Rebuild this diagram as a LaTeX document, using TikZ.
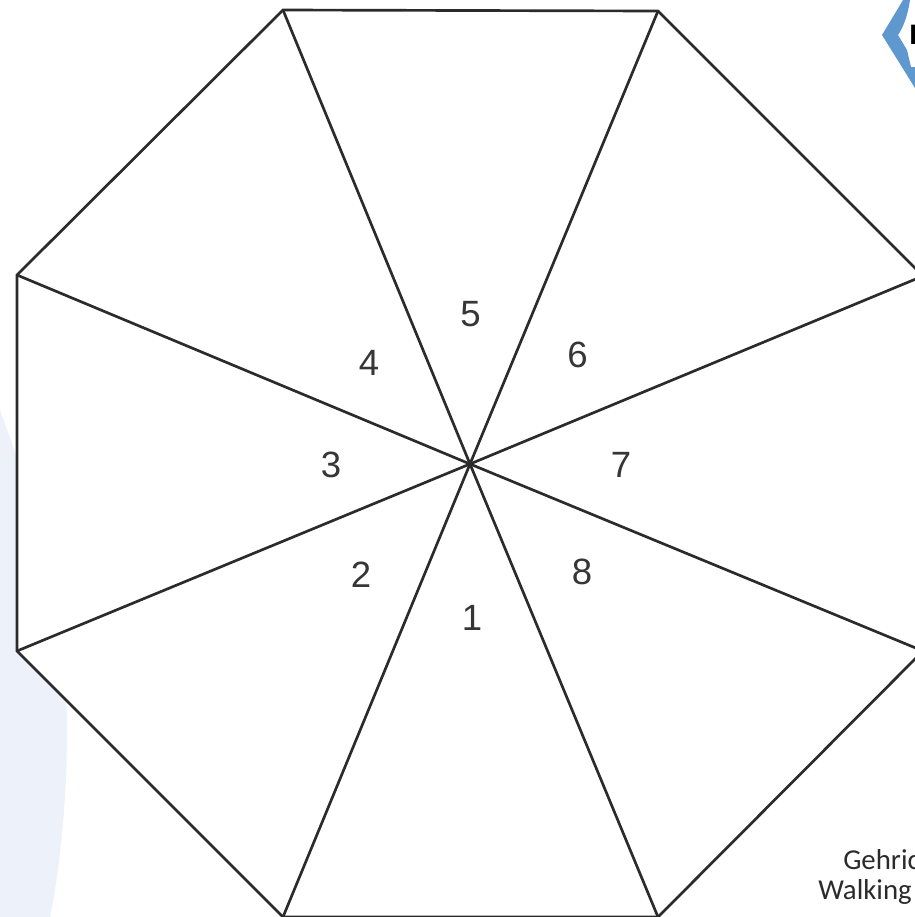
\documentclass[tikz,border=0pt]{standalone}
\usepackage{fontspec}
\setmainfont{Liberation Sans}
\newfontfamily\captionfont{Carlito}
\usetikzlibrary{positioning}

\definecolor{inkgray}{HTML}{2B2B2B}
\definecolor{paleblue}{HTML}{EDF2FA}
\definecolor{badgeblue}{HTML}{5F97CF}

\begin{document}
\begin{tikzpicture}[
    x=0.025cm,
    y=-0.025cm,
    spoke/.style={
        draw=inkgray,
        line width=1.9pt
    },
    sector/.style={
        font=\fontsize{26}{30}\selectfont,
        text=inkgray!95!white,
        inner sep=0pt
    },
    credit/.style={
        font=\captionfont\fontsize{20.5}{25}\selectfont,
        text=inkgray,
        anchor=base west,
        inner sep=0pt
    }
]

\useasboundingbox (0,0) rectangle (915,917);
\clip (0,0) rectangle (915,917);

% Pale backdrop shape at the left edge
\fill[paleblue] (0,410) .. controls (45,530) and (67,640) .. (67,730)
  .. controls (67,800) and (60,870) .. (50,917) -- (0,917) -- cycle;

% Badge outline in the top right corner
\fill[badgeblue] (903,0) -- (882,35) -- (915,88) -- (915,67) -- (911,67) -- (907,50)
  -- (898,35) .. controls (903,28) and (908,15) .. (910,0) -- cycle;
\node[font=\bfseries\fontsize{20}{24}\selectfont,text=black,anchor=west,inner sep=0pt] (badge) at (909,35) {E};

% Rim corners
\coordinate (hub) at (470,464);
\coordinate (c1) at (283,917);
\coordinate (c2) at (17,651);
\coordinate (c3) at (17,275);
\coordinate (c4) at (283,10);
\coordinate (c5) at (658,11);
\coordinate (c6) at (923,276);
\coordinate (c7) at (923,651);
\coordinate (c8) at (658,917);

% Rim
\draw[spoke,fill=white] (c1) -- (c2) -- (c3) -- (c4) -- (c5) -- (c6) -- (c7) -- (c8) -- cycle;

% Spokes
\draw[spoke] (hub) -- (c1);
\draw[spoke] (hub) -- (c2);
\draw[spoke] (hub) -- (c3);
\draw[spoke] (hub) -- (c4);
\draw[spoke] (hub) -- (c5);
\draw[spoke] (hub) -- (c6);
\draw[spoke] (hub) -- (c7);
\draw[spoke] (hub) -- (c8);

% Sector numbers
\node[sector] (n1) at (472,618) {1};
\node[sector] (n2) at (361,575) {2};
\node[sector] (n3) at (331,465) {3};
\node[sector] (n4) at (369,363) {4};
\node[sector] (n5) at (470.5,314) {5};
\node[sector] (n6) at (577.5,355) {6};
\node[sector] (n7) at (621,465) {7};
\node[sector] (n8) at (582,572) {8};

% Credit cut off by the right edge
\node[credit] (credit1) at (843,869) {Gehric};
\node[credit] (credit2) at (818,899) {Walking};

\end{tikzpicture}
\end{document}
